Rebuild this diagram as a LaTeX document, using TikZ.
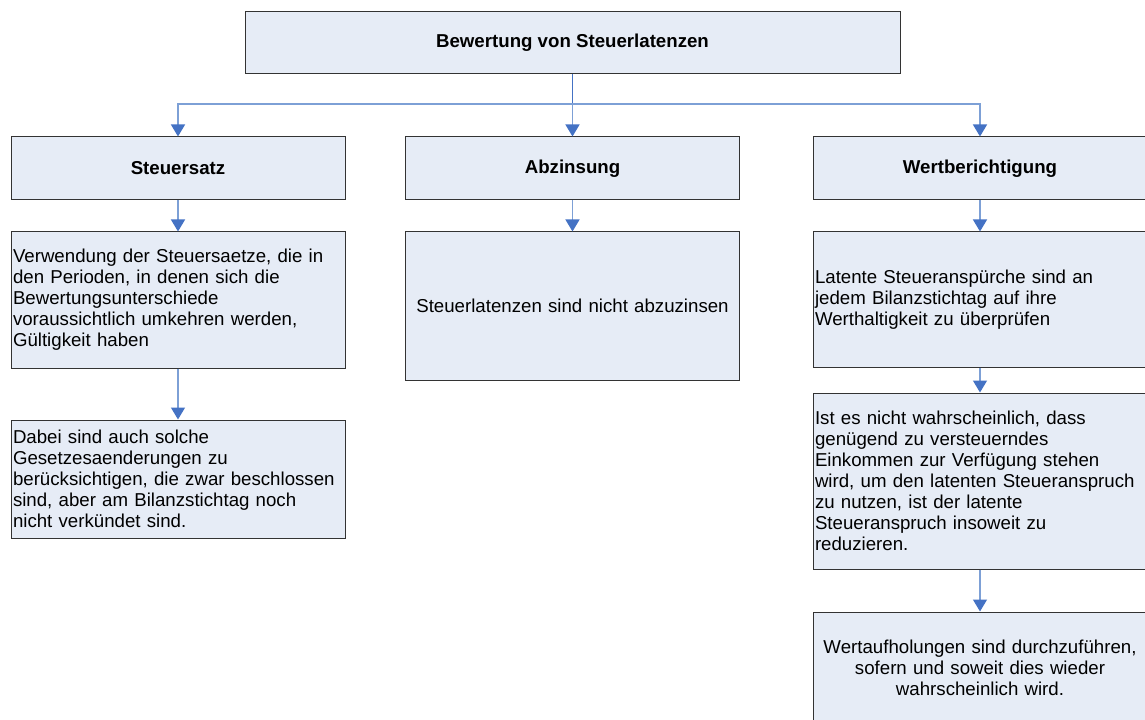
\documentclass[tikz,border=0pt]{standalone}
\usepackage{fontspec}
\setmainfont{Liberation Sans}
\usetikzlibrary{arrows.meta}
\definecolor{boxfill}{RGB}{230,236,246}
\definecolor{linkblue}{RGB}{125,160,214}
\definecolor{tipblue}{RGB}{68,114,196}
\begin{document}
\begin{tikzpicture}[x=0.75pt, y=-0.75pt,
  head/.style={draw=black!80, line width=0.75pt, fill=boxfill, align=center, font=\fontsize{14}{15.75}\selectfont\bfseries, minimum width=250.5pt, minimum height=47.25pt, inner sep=1.5pt},
  note/.style={draw=black!80, line width=0.75pt, fill=boxfill, align=left, font=\fontsize{14}{15.75}\selectfont, text width=247.5pt, inner sep=1.5pt},
  arrow/.style={draw=linkblue, line width=1pt, -{Triangle[width=10.5pt, length=9pt, fill=tipblue, color=tipblue]}}
]
\clip (0,0) rectangle (1145,720);
\node[head, minimum width=491.25pt, minimum height=46.5pt] (bewertung) at (572.5,43) {Bewertung von Steuerlatenzen};
\node[head] (steuersatz) at (178,168.5) {Steuersatz};
\node[head] (abzinsung) at (572.5,168.5) {Abzinsung};
\node[head] (wert) at (980,168.5) {Wertberichtigung};
\node[note, minimum height=102pt] (saetze) at (178,300) {Verwendung der Steuersaetze, die in\\den Perioden, in denen sich die\\Bewertungsunterschiede\\voraussichtlich umkehren werden,\\Gültigkeit haben};
\node[note, minimum height=88.5pt] (gesetze) at (178,479) {Dabei sind auch solche\\Gesetzesaenderungen zu\\berücksichtigen, die zwar beschlossen\\sind, aber am Bilanzstichtag noch\\nicht verkündet sind.};
\node[note, align=center, minimum height=111pt] (nichtabz) at (572.5,306) {Steuerlatenzen sind nicht abzuzinsen};
\node[note, minimum height=101.25pt] (pruefung) at (980,299.5) {Latente Steueranspürche sind an\\jedem Bilanzstichtag auf ihre\\Werthaltigkeit zu überprüfen};
\node[note, minimum height=132pt] (reduktion) at (980,481) {Ist es nicht wahrscheinlich, dass\\genügend zu versteuerndes\\Einkommen zur Verfügung stehen\\wird, um den latenten Steueranspruch\\zu nutzen, ist der latente\\Steueranspruch insoweit zu\\reduzieren.};
\node[note, align=center, minimum height=84pt] (aufholung) at (980,668) {Wertaufholungen sind durchzuführen,\\sofern und soweit dies wieder\\wahrscheinlich wird.};

\coordinate (split) at (572.5,104);
\draw[draw=tipblue, line width=1pt] (bewertung) -- (split);
\draw[arrow] (split) -| (steuersatz);
\draw[arrow] (split) -- (abzinsung);
\draw[arrow] (split) -| (wert);
\draw[arrow] (steuersatz) -- (saetze);
\draw[arrow] (saetze) -- (gesetze);
\draw[arrow] (abzinsung) -- (nichtabz);
\draw[arrow] (wert) -- (pruefung);
\draw[arrow] (pruefung) -- (reduktion);
\draw[arrow] (reduktion) -- (aufholung);
\end{tikzpicture}
\end{document}
